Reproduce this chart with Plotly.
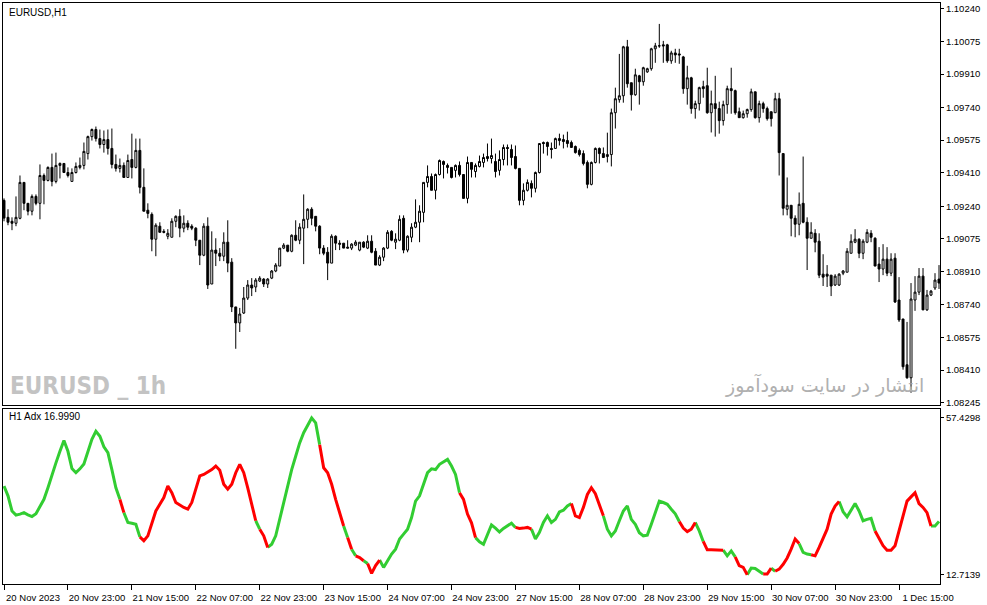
import plotly.graph_objects as go

# EURUSD H1 candles, bar index 0 = 20 Nov 2023 07:00
opens = [
    1.09270, 1.09184, 1.09164, 1.09154, 1.09179, 1.09361, 1.09255, 1.09215, 1.09290, 1.09255,
    1.09396, 1.09371, 1.09437, 1.09366, 1.09447, 1.09457, 1.09411, 1.09366, 1.09411, 1.09437,
    1.09447, 1.09507, 1.09593, 1.09629, 1.09583, 1.09553, 1.09578, 1.09533, 1.09452, 1.09432,
    1.09447, 1.09386, 1.09477, 1.09437, 1.09523, 1.09336, 1.09220, 1.09199, 1.09073, 1.09139,
    1.09113, 1.09088, 1.09083, 1.09164, 1.09189, 1.09129, 1.09154, 1.09139, 1.09129, 1.09068,
    1.08992, 1.09139, 1.08846, 1.09018, 1.09002, 1.08987, 1.09058, 1.08957, 1.08730, 1.08649,
    1.08699, 1.08775, 1.08841, 1.08831, 1.08861, 1.08871, 1.08846, 1.08876, 1.08912, 1.08937,
    1.09028, 1.09043, 1.09012, 1.09093, 1.09068, 1.09129, 1.09174, 1.09225, 1.09189, 1.09139,
    1.09028, 1.09007, 1.08952, 1.09088, 1.09053, 1.09053, 1.09033, 1.09028, 1.09043, 1.09018,
    1.09058, 1.09028, 1.09063, 1.09012, 1.08942, 1.08982, 1.09028, 1.09113, 1.09058, 1.09068,
    1.09179, 1.09018, 1.09083, 1.09134, 1.09159, 1.09209, 1.09361, 1.09391, 1.09321, 1.09401,
    1.09467, 1.09447, 1.09437, 1.09422, 1.09447, 1.09401, 1.09280, 1.09462, 1.09416, 1.09442,
    1.09462, 1.09492, 1.09482, 1.09467, 1.09422, 1.09477, 1.09538, 1.09528, 1.09492, 1.09432,
    1.09270, 1.09321, 1.09356, 1.09331, 1.09411, 1.09563, 1.09563, 1.09533, 1.09533, 1.09583,
    1.09578, 1.09573, 1.09563, 1.09543, 1.09523, 1.09507, 1.09462, 1.09351, 1.09462, 1.09533,
    1.09507, 1.09492, 1.09502, 1.09714, 1.09780, 1.09800, 1.10048, 1.09866, 1.09805, 1.09901,
    1.09871, 1.09921, 1.09937, 1.10038, 1.10053, 1.10058, 1.10058, 1.09977, 1.10017, 1.10012,
    1.09997, 1.09836, 1.09891, 1.09735, 1.09760, 1.09846, 1.09851, 1.09714, 1.09760, 1.09735,
    1.09674, 1.09755, 1.09836, 1.09826, 1.09719, 1.09689, 1.09709, 1.09730, 1.09820, 1.09689,
    1.09760, 1.09735, 1.09719, 1.09714, 1.09785, 1.09507, 1.09225, 1.09245, 1.09179, 1.09149,
    1.09255, 1.09159, 1.09078, 1.09103, 1.09063, 1.08896, 1.08896, 1.08891, 1.08841, 1.08841,
    1.08901, 1.08906, 1.09002, 1.09058, 1.09073, 1.09002, 1.09058, 1.09103, 1.09078, 1.08947,
    1.08922, 1.08972, 1.08901, 1.08977, 1.08765, 1.08669, 1.08437, 1.08371, 1.08765, 1.08805,
    1.08886, 1.08715, 1.08790, 1.08826, 1.08871,
]
highs = [
    1.09280, 1.09225, 1.09184, 1.09290, 1.09396, 1.09361, 1.09255, 1.09300, 1.09300, 1.09452,
    1.09406, 1.09442, 1.09507, 1.09512, 1.09462, 1.09457, 1.09437, 1.09432, 1.09462, 1.09487,
    1.09563, 1.09598, 1.09634, 1.09644, 1.09629, 1.09624, 1.09629, 1.09634, 1.09502, 1.09482,
    1.09462, 1.09502, 1.09608, 1.09583, 1.09583, 1.09432, 1.09255, 1.09209, 1.09154, 1.09159,
    1.09124, 1.09124, 1.09179, 1.09194, 1.09225, 1.09194, 1.09169, 1.09149, 1.09134, 1.09068,
    1.09154, 1.09184, 1.09113, 1.09078, 1.09028, 1.09108, 1.09169, 1.08977, 1.08730, 1.08725,
    1.08831, 1.08866, 1.08876, 1.08876, 1.08886, 1.08876, 1.08876, 1.08917, 1.08952, 1.09028,
    1.09053, 1.09043, 1.09098, 1.09169, 1.09154, 1.09300, 1.09230, 1.09235, 1.09189, 1.09144,
    1.09043, 1.09033, 1.09098, 1.09093, 1.09068, 1.09053, 1.09068, 1.09053, 1.09068, 1.09058,
    1.09063, 1.09093, 1.09093, 1.09028, 1.08992, 1.09033, 1.09119, 1.09119, 1.09103, 1.09194,
    1.09194, 1.09093, 1.09154, 1.09275, 1.09245, 1.09361, 1.09447, 1.09406, 1.09406, 1.09477,
    1.09472, 1.09457, 1.09437, 1.09452, 1.09467, 1.09401, 1.09492, 1.09462, 1.09457, 1.09497,
    1.09507, 1.09558, 1.09583, 1.09507, 1.09523, 1.09553, 1.09553, 1.09553, 1.09548, 1.09432,
    1.09356, 1.09376, 1.09371, 1.09416, 1.09558, 1.09568, 1.09568, 1.09563, 1.09588, 1.09608,
    1.09603, 1.09618, 1.09573, 1.09548, 1.09533, 1.09523, 1.09472, 1.09467, 1.09538, 1.09538,
    1.09538, 1.09613, 1.09735, 1.09841, 1.10012, 1.10053, 1.10083, 1.09866, 1.09937, 1.09906,
    1.09947, 1.09942, 1.10043, 1.10068, 1.10164, 1.10078, 1.10063, 1.10028, 1.10038, 1.10038,
    1.10002, 1.09952, 1.09896, 1.09775, 1.09846, 1.09876, 1.09942, 1.09826, 1.09901, 1.09770,
    1.09775, 1.09851, 1.09942, 1.09831, 1.09740, 1.09725, 1.09735, 1.09836, 1.09820, 1.09775,
    1.09770, 1.09745, 1.09719, 1.09815, 1.09815, 1.09507, 1.09386, 1.09245, 1.09194, 1.09310,
    1.09492, 1.09184, 1.09159, 1.09124, 1.09103, 1.08997, 1.08942, 1.08891, 1.08896, 1.08901,
    1.08917, 1.09028, 1.09098, 1.09124, 1.09078, 1.09073, 1.09124, 1.09119, 1.09083, 1.09033,
    1.09048, 1.09033, 1.09002, 1.09002, 1.08881, 1.08669, 1.08654, 1.08851, 1.08886, 1.08927,
    1.08927, 1.08816, 1.08816, 1.08901, 1.08942,
]
lows = [
    1.09164, 1.09144, 1.09119, 1.09139, 1.09174, 1.09220, 1.09194, 1.09194, 1.09245, 1.09174,
    1.09250, 1.09366, 1.09341, 1.09356, 1.09381, 1.09411, 1.09386, 1.09366, 1.09406, 1.09427,
    1.09427, 1.09477, 1.09573, 1.09568, 1.09533, 1.09512, 1.09502, 1.09432, 1.09416, 1.09411,
    1.09386, 1.09386, 1.09381, 1.09432, 1.09305, 1.09215, 1.09179, 1.09012, 1.08987, 1.09108,
    1.09103, 1.09073, 1.09083, 1.09134, 1.09083, 1.09108, 1.09119, 1.09119, 1.09038, 1.08942,
    1.08987, 1.08821, 1.08846, 1.08937, 1.08962, 1.08962, 1.08906, 1.08704, 1.08518, 1.08603,
    1.08694, 1.08765, 1.08785, 1.08805, 1.08856, 1.08831, 1.08826, 1.08871, 1.08906, 1.08937,
    1.09023, 1.09007, 1.09007, 1.09063, 1.09048, 1.08947, 1.09129, 1.09144, 1.09113, 1.08997,
    1.08992, 1.08866, 1.08952, 1.09018, 1.09018, 1.09028, 1.09028, 1.09018, 1.09038, 1.09012,
    1.09028, 1.09023, 1.09002, 1.08942, 1.08937, 1.08962, 1.09023, 1.09063, 1.09023, 1.09063,
    1.09002, 1.09007, 1.09058, 1.09129, 1.09058, 1.09159, 1.09336, 1.09321, 1.09275, 1.09396,
    1.09381, 1.09406, 1.09381, 1.09386, 1.09391, 1.09280, 1.09255, 1.09386, 1.09386, 1.09437,
    1.09437, 1.09467, 1.09457, 1.09386, 1.09396, 1.09447, 1.09447, 1.09447, 1.09427, 1.09245,
    1.09245, 1.09315, 1.09285, 1.09310, 1.09406, 1.09507, 1.09497, 1.09482, 1.09533, 1.09548,
    1.09533, 1.09538, 1.09538, 1.09507, 1.09492, 1.09447, 1.09331, 1.09346, 1.09457, 1.09457,
    1.09487, 1.09462, 1.09442, 1.09634, 1.09765, 1.09765, 1.09841, 1.09725, 1.09800, 1.09755,
    1.09851, 1.09916, 1.09927, 1.09967, 1.10043, 1.09967, 1.09967, 1.09962, 1.09967, 1.09962,
    1.09810, 1.09755, 1.09709, 1.09684, 1.09725, 1.09790, 1.09709, 1.09614, 1.09593, 1.09608,
    1.09649, 1.09709, 1.09709, 1.09704, 1.09689, 1.09684, 1.09689, 1.09719, 1.09684, 1.09664,
    1.09714, 1.09674, 1.09644, 1.09714, 1.09396, 1.09194, 1.09194, 1.09088, 1.09083, 1.09093,
    1.09154, 1.08917, 1.09078, 1.09007, 1.08876, 1.08836, 1.08831, 1.08785, 1.08836, 1.08836,
    1.08891, 1.08906, 1.09002, 1.09053, 1.08977, 1.08972, 1.09053, 1.09058, 1.08937, 1.08856,
    1.08891, 1.08886, 1.08886, 1.08750, 1.08654, 1.08412, 1.08366, 1.08295, 1.08710, 1.08790,
    1.08715, 1.08710, 1.08785, 1.08816, 1.08821,
]
closes = [
    1.09180, 1.09159, 1.09154, 1.09184, 1.09361, 1.09255, 1.09215, 1.09290, 1.09255, 1.09396,
    1.09371, 1.09437, 1.09366, 1.09447, 1.09457, 1.09411, 1.09396, 1.09411, 1.09442, 1.09447,
    1.09518, 1.09593, 1.09629, 1.09583, 1.09553, 1.09578, 1.09533, 1.09452, 1.09432, 1.09447,
    1.09386, 1.09472, 1.09437, 1.09523, 1.09336, 1.09215, 1.09204, 1.09073, 1.09144, 1.09108,
    1.09108, 1.09103, 1.09164, 1.09189, 1.09129, 1.09154, 1.09134, 1.09129, 1.09068, 1.08992,
    1.09139, 1.08841, 1.09018, 1.09002, 1.08987, 1.09058, 1.08952, 1.08730, 1.08649, 1.08694,
    1.08775, 1.08841, 1.08826, 1.08866, 1.08876, 1.08846, 1.08871, 1.08912, 1.08942, 1.09028,
    1.09043, 1.09012, 1.09093, 1.09068, 1.09134, 1.09174, 1.09225, 1.09179, 1.09139, 1.09028,
    1.09002, 1.08952, 1.09088, 1.09053, 1.09048, 1.09028, 1.09028, 1.09048, 1.09058, 1.09058,
    1.09033, 1.09063, 1.09007, 1.08942, 1.08982, 1.09028, 1.09108, 1.09068, 1.09073, 1.09174,
    1.09018, 1.09088, 1.09134, 1.09159, 1.09215, 1.09361, 1.09391, 1.09321, 1.09401, 1.09472,
    1.09452, 1.09437, 1.09386, 1.09447, 1.09401, 1.09280, 1.09462, 1.09427, 1.09447, 1.09467,
    1.09487, 1.09482, 1.09497, 1.09416, 1.09477, 1.09538, 1.09533, 1.09487, 1.09432, 1.09270,
    1.09321, 1.09361, 1.09331, 1.09411, 1.09558, 1.09558, 1.09543, 1.09528, 1.09583, 1.09573,
    1.09568, 1.09558, 1.09538, 1.09512, 1.09502, 1.09457, 1.09351, 1.09462, 1.09533, 1.09507,
    1.09487, 1.09502, 1.09714, 1.09785, 1.09800, 1.10048, 1.09861, 1.09805, 1.09906, 1.09871,
    1.09942, 1.09937, 1.10038, 1.10053, 1.10053, 1.10053, 1.09977, 1.10017, 1.10007, 1.10007,
    1.09836, 1.09891, 1.09735, 1.09760, 1.09841, 1.09836, 1.09714, 1.09760, 1.09735, 1.09674,
    1.09755, 1.09836, 1.09826, 1.09714, 1.09689, 1.09709, 1.09730, 1.09820, 1.09689, 1.09760,
    1.09735, 1.09684, 1.09684, 1.09785, 1.09512, 1.09230, 1.09245, 1.09179, 1.09149, 1.09250,
    1.09159, 1.09078, 1.09108, 1.09058, 1.08891, 1.08881, 1.08886, 1.08836, 1.08886, 1.08896,
    1.08912, 1.09012, 1.09063, 1.09073, 1.09002, 1.09063, 1.09108, 1.09083, 1.08937, 1.08922,
    1.08972, 1.08901, 1.08972, 1.08755, 1.08664, 1.08427, 1.08371, 1.08770, 1.08805, 1.08886,
    1.08715, 1.08790, 1.08810, 1.08866, 1.08851,
]

# ADX values per bar
adx = [
    38.0, 35.2, 30.9, 29.7, 30.0, 30.4, 29.8, 29.3, 30.1, 32.0,
    34.2, 37.5, 41.3, 44.6, 47.9, 51.0, 47.9, 43.0, 41.8, 42.9,
    44.3, 47.5, 51.3, 53.6, 52.2, 49.2, 47.5, 42.7, 37.5, 34.2,
    30.4, 27.6, 27.4, 27.1, 23.5, 22.4, 23.8, 27.6, 30.9, 32.8,
    34.7, 38.0, 36.1, 33.3, 32.5, 31.9, 31.4, 33.3, 37.1, 40.9,
    41.3, 42.0, 42.7, 43.7, 42.5, 38.5, 37.1, 38.5, 41.8, 44.2,
    41.8, 37.5, 32.8, 28.1, 25.7, 23.8, 20.5, 21.4, 23.8, 28.5,
    33.3, 38.5, 42.7, 46.5, 50.3, 53.2, 55.5, 57.4, 56.0, 49.8,
    43.2, 41.8, 38.5, 34.2, 30.4, 26.6, 23.3, 20.0, 18.1, 17.6,
    16.7, 15.9, 13.1, 15.3, 16.9, 14.8, 16.7, 18.6, 20.0, 22.9,
    24.3, 25.7, 29.0, 33.7, 35.2, 38.5, 41.8, 42.9, 42.7, 44.2,
    44.9, 45.6, 43.7, 41.3, 36.1, 34.2, 30.0, 27.5, 23.3, 22.1,
    21.4, 24.3, 26.9, 26.0, 24.9, 25.9, 26.6, 27.4, 26.2, 25.9,
    26.0, 26.2, 25.7, 22.9, 24.8, 27.6, 29.5, 27.6, 28.5, 30.6,
    31.1, 32.3, 33.0, 29.5, 29.0, 31.9, 35.6, 37.5, 35.8, 32.8,
    29.5, 25.7, 23.8, 25.2, 28.1, 30.9, 32.3, 28.5, 27.1, 24.7,
    23.8, 24.0, 27.1, 30.4, 33.7, 33.3, 32.8, 31.4, 30.1, 27.9,
    26.0, 25.0, 25.7, 27.6, 25.2, 22.2, 19.8, 19.8, 19.8, 19.8,
    19.7, 18.1, 19.5, 17.8, 15.3, 14.8, 12.7, 14.6, 14.5, 13.7,
    12.9, 12.9, 14.6, 13.7, 14.3, 15.7, 17.5, 20.0, 22.9, 21.6,
    19.1, 18.6, 18.4, 18.1, 20.5, 23.3, 25.7, 30.0, 32.3, 33.6,
    30.7, 29.2, 31.1, 33.0, 30.9, 28.1, 28.5, 28.8, 25.2, 22.9,
    21.0, 19.7, 19.7, 21.0, 25.4, 30.0, 33.7, 34.9, 36.1, 33.0,
    31.9, 30.4, 26.6, 26.6, 27.9,
]
# colour of each line segment (bar k-1 -> k), as runs: G = +DI above, R = -DI above
adx_runs = [
    ("G", 29), ("R", 1), ("G", 4), ("R", 29), ("G", 1), ("R", 2), ("G", 13),
    ("R", 6), ("G", 1), ("R", 1), ("G", 1), ("R", 2), ("G", 1), ("R", 3),
    ("G", 20), ("R", 4), ("G", 10), ("R", 4), ("G", 10), ("R", 8), ("G", 19),
    ("R", 4), ("G", 2), ("R", 5), ("G", 3), ("R", 3), ("G", 4), ("R", 2),
    ("G", 1), ("R", 6), ("G", 3), ("R", 7), ("G", 9), ("R", 14), ("G", 2),
]

tick_bars = [0, 16, 32, 48, 64, 80, 96, 112, 128, 144, 160, 176, 192, 208, 224]
tick_text = [
    "20 Nov 2023", "20 Nov 23:00", "21 Nov 15:00", "22 Nov 07:00", "22 Nov 23:00",
    "23 Nov 15:00", "24 Nov 07:00", "24 Nov 23:00", "27 Nov 15:00", "28 Nov 07:00",
    "28 Nov 23:00", "29 Nov 15:00", "30 Nov 07:00", "30 Nov 23:00", "1 Dec 15:00",
]
price_ticks = [1.10240, 1.10075, 1.09910, 1.09740, 1.09575, 1.09410, 1.09240,
               1.09075, 1.08910, 1.08740, 1.08575, 1.08410, 1.08245]
adx_ticks = [57.4298, 12.7139]

GREEN = "#32cd32"
RED = "#ff0000"
FONT = "Liberation Sans, Arial, sans-serif"

bars = list(range(len(closes)))

fig = go.Figure()
fig.add_trace(go.Candlestick(
    x=bars, open=opens, high=highs, low=lows, close=closes,
    increasing=dict(line=dict(color="black", width=1), fillcolor="white"),
    decreasing=dict(line=dict(color="black", width=1), fillcolor="black"),
    whiskerwidth=0, showlegend=False, hoverinfo="skip",
    xaxis="x", yaxis="y",
))

# split the ADX line into green / red pieces
seg_colors = []
for c, n in adx_runs:
    seg_colors += [c] * n
for col, code in [(GREEN, "G"), (RED, "R")]:
    xs, ys = [], []
    for k in range(1, len(adx)):
        if seg_colors[k - 1] != code:
            continue
        if not xs or xs[-1] != k - 1:
            if xs:
                xs.append(None)
                ys.append(None)
            xs.append(k - 1)
            ys.append(adx[k - 1])
        xs.append(k)
        ys.append(adx[k])
    fig.add_trace(go.Scatter(
        x=xs, y=ys, mode="lines", line=dict(color=col, width=3),
        connectgaps=False, showlegend=False, hoverinfo="skip",
        xaxis="x2", yaxis="y2",
    ))

# pixel layout: plot area x 2..940, y 2..585
W, H = 987, 605
ml, mr, mt, mb = 2, 47, 2, 20
ph = H - mt - mb


def py(p):
    return (H - mb - p) / ph


def px(p):
    return (p - ml) / (W - ml - mr)


xr = [-0.25, len(closes) - 0.75]
axis_common = dict(showline=True, mirror=True, linecolor="black", linewidth=1,
                   showgrid=False, zeroline=False)

fig.update_layout(
    width=W, height=H, autosize=False,
    margin=dict(l=ml, r=mr, t=mt, b=mb),
    paper_bgcolor="white", plot_bgcolor="white",
    font=dict(family=FONT, size=9.5, color="black"),
    showlegend=False,
    xaxis=dict(domain=[0, 1], range=xr, anchor="y", showticklabels=False,
               ticks="", rangeslider=dict(visible=False), **axis_common),
    yaxis=dict(domain=[py(405), 1], range=[1.08235, 1.10270], side="right",
               anchor="x", tickvals=price_ticks,
               ticktext=[f"{v:.5f}" for v in price_ticks],
               ticks="outside", ticklen=3, tickcolor="black", **axis_common),
    xaxis2=dict(domain=[0, 1], range=xr, anchor="y2", tickvals=tick_bars,
                ticktext=tick_text, ticks="outside", ticklen=5, tickcolor="black",
                ticklabelshift=29, tickangle=0, **axis_common),
    yaxis2=dict(domain=[0, py(409)], range=[10.07, 60.07], side="right",
                anchor="x2", tickvals=adx_ticks,
                ticktext=[f"{v:.4f}" for v in adx_ticks],
                ticks="outside", ticklen=3, tickcolor="black", **axis_common),
)

fig.add_annotation(text="EURUSD,H1", xref="paper", yref="paper", x=px(6), y=py(12),
                   xanchor="left", yanchor="middle", showarrow=False,
                   font=dict(family=FONT, size=10, color="black"))
fig.add_annotation(text="H1 Adx 16.9990", xref="paper", yref="paper", x=px(6), y=py(417),
                   xanchor="left", yanchor="middle", showarrow=False,
                   font=dict(family=FONT, size=10, color="black"))
fig.add_annotation(text="<b>EURUSD _ 1h</b>", xref="paper", yref="paper", x=px(7), y=py(386),
                   xanchor="left", yanchor="middle", showarrow=False,
                   font=dict(family="DejaVu Sans Condensed", size=24, color="#c3c3c3"))
fig.add_annotation(text="انتشار در سایت سودآموز", xref="paper", yref="paper", x=px(926), y=py(385),
                   xanchor="right", yanchor="middle", showarrow=False,
                   font=dict(family="DejaVu Sans, sans-serif", size=19, color="#b0b0b0"))

# page body has a default margin; drop it so the chart sits at the window corner
fig.write_html("out.html", config={"displayModeBar": False},
               post_script="document.body.style.margin='0px';")
